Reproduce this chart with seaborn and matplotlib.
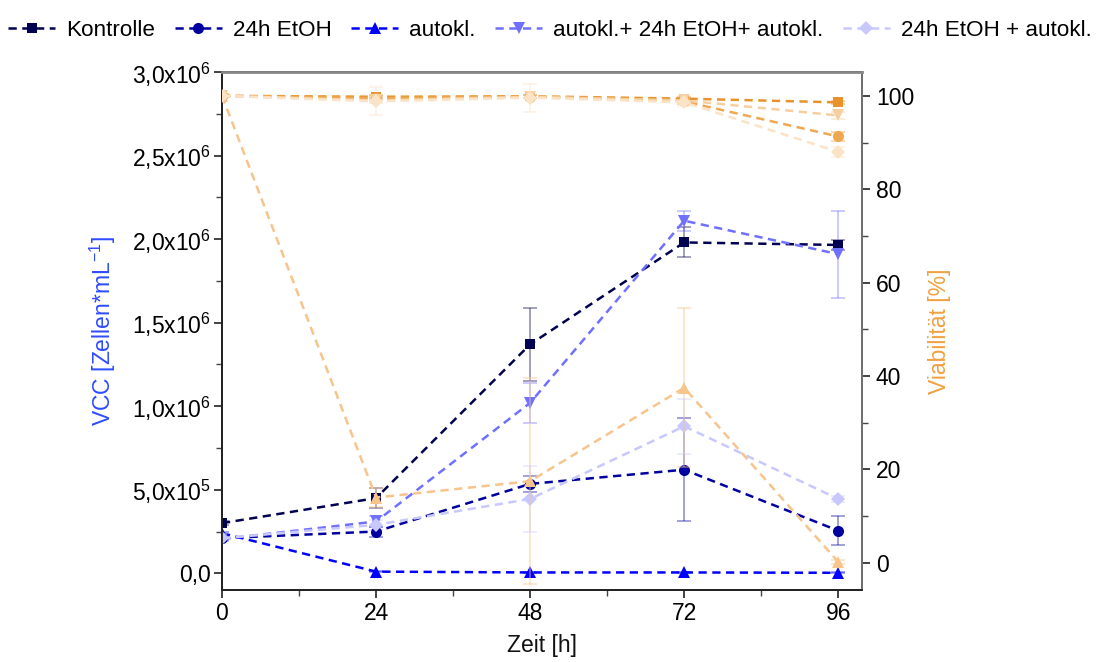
import numpy as np
import pandas as pd
import matplotlib
matplotlib.use("Agg")
import matplotlib.pyplot as plt
import seaborn as sns
from matplotlib.ticker import MultipleLocator, FixedLocator

# ---------------- data ----------------
time_h = [0, 24, 48, 72, 96]
series_names = ["Kontrolle", "24h EtOH", "autokl.", "autokl.+ 24h EtOH+ autokl.", "24h EtOH + autokl."]

vcc_kontrolle = [3.0e5, 4.5e5, 1.37e6, 1.98e6, 1.965e6]
vcc_etoh = [2.1e5, 2.5e5, 5.35e5, 6.2e5, 2.55e5]
vcc_autokl = [2.4e5, 1.0e4, 5.0e3, 5.0e3, 3.0e3]
vcc_aea = [2.05e5, 3.1e5, 1.02e6, 2.11e6, 1.91e6]
vcc_ea = [2.1e5, 2.9e5, 4.45e5, 8.8e5, 4.45e5]

vcc_err_kontrolle = [1.0e4, 6.0e4, 2.2e5, 9.0e4, 3.0e4]
vcc_err_etoh = [1.0e4, 3.0e4, 5.0e4, 3.1e5, 8.5e4]
vcc_err_autokl = [1.0e4, 5.0e3, 3.0e3, 3.0e3, 3.0e3]
vcc_err_aea = [1.0e4, 3.0e4, 1.2e5, 6.0e4, 2.6e5]
vcc_err_ea = [1.0e4, 3.0e4, 2.0e5, 1.65e5, 2.0e4]

via_kontrolle = [100, 99.8, 99.9, 99.4, 98.6]
via_etoh = [100, 99.5, 99.8, 98.8, 91.3]
via_autokl = [100, 14.0, 17.5, 37.5, 0.2]
via_aea = [100, 99.0, 99.8, 99.0, 95.8]
via_ea = [100, 98.8, 99.6, 98.6, 88.0]

via_err_kontrolle = [0.3, 0.3, 0.3, 0.3, 0.3]
via_err_etoh = [0.3, 0.5, 0.3, 0.5, 1.0]
via_err_autokl = [0.3, 2.0, 22.0, 17.0, 0.5]
via_err_aea = [0.3, 0.5, 0.3, 0.5, 0.8]
via_err_ea = [0.3, 3.0, 3.0, 0.8, 1.0]

left_ticks = [0, 5e5, 1e6, 1.5e6, 2e6, 2.5e6, 3e6]
left_labels = ["0,0", r"5,0x10$^{5}$", r"1,0x10$^{6}$", r"1,5x10$^{6}$",
               r"2,0x10$^{6}$", r"2,5x10$^{6}$", r"3,0x10$^{6}$"]
right_ticks = [0, 20, 40, 60, 80, 100]
x_ticks = [0, 24, 48, 72, 96]

# ---------------- styles ----------------
blue_colors = ["#000050", "#0000a0", "#0000ff", "#7070ff", "#c8c8ff"]
orange_colors = ["#e8922c", "#f0a850", "#f7c48c", "#f5cfa0", "#fbe3c8"]
markers = ["s", "o", "^", "v", "D"]
msizes = [7, 8, 8, 8, 7]

vcc_vals = [vcc_kontrolle, vcc_etoh, vcc_autokl, vcc_aea, vcc_ea]
vcc_errs = [vcc_err_kontrolle, vcc_err_etoh, vcc_err_autokl, vcc_err_aea, vcc_err_ea]
via_vals = [via_kontrolle, via_etoh, via_autokl, via_aea, via_ea]
via_errs = [via_err_kontrolle, via_err_etoh, via_err_autokl, via_err_aea, via_err_ea]

sns.set_theme(style="white")
plt.rcParams["font.family"] = ["Liberation Sans", "DejaVu Sans"]
plt.rcParams["mathtext.fontset"] = "custom"
plt.rcParams["mathtext.rm"] = "Liberation Sans"
plt.rcParams["mathtext.it"] = "Liberation Sans:italic"
plt.rcParams["mathtext.bf"] = "Liberation Sans:bold"
plt.rcParams["text.color"] = "black"

FS = 16.5
LFS = 16.2
LW = 1.8
dash = (3.3, 2.2)

fig = plt.figure(figsize=(11, 6.62), dpi=100)
ax = fig.add_axes([222 / 1100, 1 - 590 / 662, (862 - 222) / 1100, (590 - 72) / 662])
ax2 = ax.twinx()

rows = []
for name, vals in zip(series_names, vcc_vals):
    for t, v in zip(time_h, vals):
        rows.append({"Zeit": t, "VCC": v, "Serie": name})
df_vcc = pd.DataFrame(rows)
rows = []
for name, vals in zip(series_names, via_vals):
    for t, v in zip(time_h, vals):
        rows.append({"Zeit": t, "Via": v, "Serie": name})
df_via = pd.DataFrame(rows)


def draw(axis, df, ycol, colors, legend):
    for name, c, m, ms in zip(series_names, colors, markers, msizes):
        sub = df[df["Serie"] == name]
        before = len(axis.get_lines())
        sns.lineplot(data=sub, x="Zeit", y=ycol, ax=axis, color=c, marker=m,
                     markersize=ms, markeredgewidth=0, lw=LW,
                     label=name if legend else None, legend=legend, zorder=3)
        for line in axis.get_lines()[before:]:
            line.set_dashes(dash)


# error bars (VCC)
for vals, errs, c in zip(vcc_vals, vcc_errs, blue_colors):
    ax.errorbar(time_h, vals, yerr=errs, fmt="none", ecolor=c, alpha=0.4,
                elinewidth=1.3, capsize=5, capthick=1.3, zorder=2)
draw(ax, df_vcc, "VCC", blue_colors, True)

# viability
for vals, errs, c in zip(via_vals, via_errs, orange_colors):
    ax2.errorbar(time_h, vals, yerr=errs, fmt="none", ecolor=c, alpha=0.45,
                 elinewidth=1.3, capsize=5, capthick=1.3, zorder=2)
draw(ax2, df_via, "Via", orange_colors, False)

ax.set_xlim(0, 99.7)
ax.set_ylim(-1.0e5, 3.0e6)
ax2.set_ylim(-5.8, 105.1)

ax.xaxis.set_major_locator(FixedLocator(x_ticks))
ax.xaxis.set_minor_locator(MultipleLocator(12))
ax.set_yticks(left_ticks)
ax.set_yticklabels(left_labels)
ax.yaxis.set_minor_locator(MultipleLocator(2.5e5))
ax2.set_yticks(right_ticks)
ax2.yaxis.set_minor_locator(MultipleLocator(10))

for a in (ax, ax2):
    a.tick_params(which="major", direction="out", length=6, width=1.2,
                  labelsize=FS, colors="#222222", labelcolor="black")
    a.tick_params(which="minor", direction="out", length=4, width=1.0,
                  colors="#444444")
ax.tick_params(axis="x", which="both", bottom=True, top=False)
ax.tick_params(axis="y", which="both", left=True, right=False)
ax.tick_params(axis="y", which="major", pad=2)
ax2.tick_params(axis="y", which="both", right=True, left=False)
ax2.tick_params(axis="y", which="major", pad=4)
ax.tick_params(axis="x", which="major", pad=3)

for a in (ax, ax2):
    for s in a.spines.values():
        s.set_linewidth(1.3)
        s.set_color("#222222")
ax2.spines["top"].set_color("#888888")
ax2.spines["top"].set_linewidth(2)
ax2.spines["right"].set_color("#777777")

ax.set_xlabel("Zeit [h]", fontsize=FS, color="#111111", labelpad=6)
ax.set_ylabel(r"VCC [Zellen*mL$^{-1}$]", fontsize=FS, color="#2e4bff", labelpad=10)
ax2.set_ylabel("Viabilität [%]", fontsize=FS, color="#f0a040", labelpad=10)

ax.grid(False)
ax2.grid(False)

handles, labels = ax.get_legend_handles_labels()
if ax.get_legend() is not None:
    ax.get_legend().remove()
leg = fig.legend(handles, labels, loc="upper center", bbox_to_anchor=(0.5, 1.0), ncol=5,
                 frameon=False, fontsize=LFS, handlelength=2.1, handletextpad=0.5,
                 columnspacing=0.85, borderaxespad=0.5)
for t in leg.get_texts():
    t.set_color("black")

fig.savefig("out.png", dpi=100)
